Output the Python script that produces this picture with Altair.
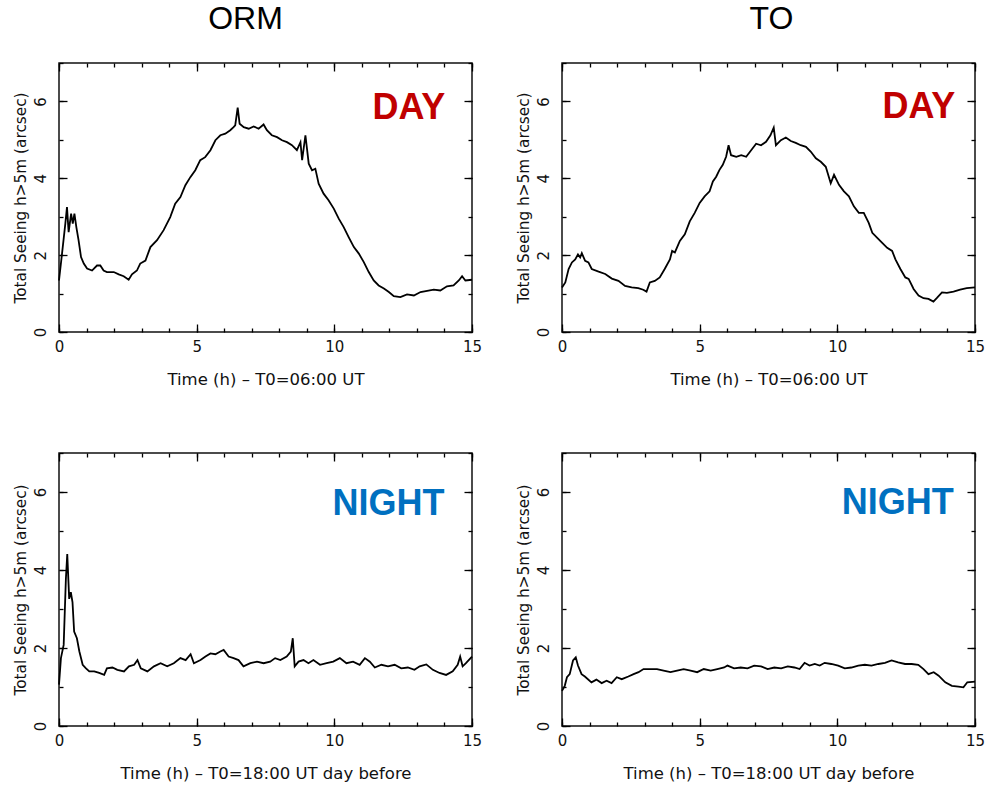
import altair as alt
import pandas as pd

# ---------------- data ----------------
orm_day_t = [0.0, 0.11, 0.23, 0.29, 0.35, 0.44, 0.5, 0.56, 0.63, 0.71,
             0.8, 0.9, 1.02, 1.2, 1.38, 1.5, 1.62, 1.74, 1.99, 2.17,
             2.35, 2.53, 2.65, 2.83, 2.95, 3.14, 3.32, 3.56, 3.8, 4.04,
             4.22, 4.41, 4.59, 4.77, 4.95, 5.13, 5.31, 5.5, 5.68, 5.86,
             6.04, 6.22, 6.34, 6.4, 6.49, 6.56, 6.71, 6.89, 7.07, 7.25,
             7.43, 7.55, 7.73, 7.92, 8.1, 8.28, 8.46, 8.64, 8.77, 8.83,
             8.95, 9.07, 9.19, 9.31, 9.43, 9.61, 9.79, 9.98, 10.16, 10.34,
             10.52, 10.71, 10.89, 11.07, 11.25, 11.43, 11.61, 11.8, 11.98, 12.16,
             12.4, 12.64, 12.89, 13.13, 13.37, 13.61, 13.85, 14.09, 14.33, 14.52,
             14.64, 14.76, 15.0]
orm_day_v = [1.34, 2.04, 2.82, 3.25, 2.6, 3.08, 2.82, 3.08, 2.73, 2.39,
             1.95, 1.78, 1.65, 1.6, 1.73, 1.73, 1.6, 1.56, 1.56, 1.5,
             1.45, 1.36, 1.5, 1.6, 1.78, 1.86, 2.21, 2.39, 2.65, 2.99,
             3.34, 3.51, 3.82, 4.03, 4.21, 4.47, 4.55, 4.73, 4.99, 5.12,
             5.16, 5.25, 5.33, 5.38, 5.84, 5.42, 5.33, 5.29, 5.35, 5.29,
             5.4, 5.25, 5.12, 5.07, 4.99, 4.94, 4.86, 4.73, 4.94, 4.47,
             5.12, 4.38, 4.21, 4.25, 3.86, 3.6, 3.43, 3.21, 2.95, 2.73,
             2.47, 2.21, 2.04, 1.82, 1.56, 1.34, 1.21, 1.13, 1.04, 0.93,
             0.91, 0.98, 0.95, 1.04, 1.07, 1.1, 1.08, 1.19, 1.21, 1.34,
             1.45, 1.34, 1.36]

to_day_t = [0.0, 0.12, 0.24, 0.36, 0.48, 0.58, 0.66, 0.72, 0.84, 0.96,
            1.08, 1.33, 1.57, 1.81, 2.05, 2.29, 2.53, 2.77, 2.95, 3.07,
            3.19, 3.37, 3.55, 3.73, 3.92, 4.0, 4.1, 4.28, 4.46, 4.64,
            4.82, 5.0, 5.18, 5.36, 5.48, 5.6, 5.72, 5.84, 5.96, 6.05,
            6.14, 6.33, 6.51, 6.69, 6.87, 7.05, 7.23, 7.41, 7.57, 7.69,
            7.77, 7.95, 8.13, 8.31, 8.49, 8.67, 8.86, 9.04, 9.22, 9.4,
            9.58, 9.76, 9.88, 10.06, 10.24, 10.42, 10.6, 10.78, 10.96, 11.14,
            11.27, 11.45, 11.63, 11.81, 11.99, 12.11, 12.29, 12.47, 12.59, 12.77,
            12.95, 13.13, 13.31, 13.49, 13.61, 13.8, 13.98, 14.22, 14.46, 14.7,
            15.0]
to_day_v = [1.16, 1.29, 1.64, 1.81, 1.89, 2.02, 1.94, 2.05, 1.85, 1.81,
            1.64, 1.57, 1.51, 1.39, 1.33, 1.2, 1.16, 1.14, 1.1, 1.05,
            1.29, 1.33, 1.42, 1.64, 1.89, 2.11, 2.07, 2.37, 2.54, 2.88,
            3.1, 3.36, 3.53, 3.66, 3.92, 4.04, 4.22, 4.35, 4.56, 4.86,
            4.6, 4.56, 4.6, 4.56, 4.73, 4.9, 4.86, 4.95, 5.12, 5.32,
            4.86, 4.99, 5.06, 4.97, 4.92, 4.86, 4.82, 4.69, 4.52, 4.43,
            4.3, 3.87, 4.09, 3.83, 3.66, 3.53, 3.27, 3.1, 3.1, 2.84,
            2.58, 2.45, 2.32, 2.19, 2.11, 1.89, 1.64, 1.42, 1.38, 1.12,
            0.95, 0.88, 0.86, 0.79, 0.88, 1.03, 1.02, 1.05, 1.1, 1.14,
            1.16]

orm_night_t = [0.0, 0.07, 0.17, 0.25, 0.3, 0.37, 0.43, 0.49, 0.55, 0.65,
               0.74, 0.86, 0.98, 1.1, 1.28, 1.46, 1.64, 1.74, 1.94, 2.12,
               2.36, 2.54, 2.73, 2.85, 2.97, 3.21, 3.45, 3.69, 3.93, 4.17,
               4.41, 4.6, 4.78, 4.9, 5.14, 5.32, 5.5, 5.68, 5.86, 5.98,
               6.16, 6.34, 6.52, 6.7, 6.95, 7.19, 7.43, 7.67, 7.85, 8.04,
               8.27, 8.42, 8.49, 8.56, 8.7, 8.88, 9.06, 9.24, 9.48, 9.72,
               9.96, 10.2, 10.44, 10.68, 10.92, 11.11, 11.29, 11.47, 11.71, 11.95,
               12.19, 12.43, 12.67, 12.91, 13.1, 13.34, 13.58, 13.82, 14.06, 14.3,
               14.48, 14.57, 14.66, 14.78, 15.0]
orm_night_v = [1.06, 1.74, 2.08, 3.77, 4.41, 3.26, 3.43, 3.18, 2.42, 2.25,
               1.91, 1.57, 1.48, 1.4, 1.4, 1.36, 1.31, 1.48, 1.5, 1.44,
               1.4, 1.53, 1.57, 1.69, 1.48, 1.4, 1.53, 1.61, 1.53, 1.61,
               1.74, 1.69, 1.84, 1.61, 1.69, 1.78, 1.86, 1.84, 1.91, 1.95,
               1.78, 1.74, 1.69, 1.53, 1.61, 1.65, 1.61, 1.65, 1.74, 1.69,
               1.78, 1.91, 2.25, 1.53, 1.65, 1.69, 1.61, 1.69, 1.57, 1.61,
               1.65, 1.74, 1.61, 1.65, 1.57, 1.74, 1.65, 1.5, 1.57, 1.53,
               1.57, 1.48, 1.5, 1.44, 1.53, 1.58, 1.44, 1.36, 1.31, 1.4,
               1.57, 1.78, 1.53, 1.61, 1.78]

to_night_t = [0.0, 0.1, 0.18, 0.28, 0.4, 0.5, 0.58, 0.71, 0.83, 1.07,
              1.25, 1.44, 1.62, 1.8, 1.99, 2.17, 2.41, 2.6, 2.78, 2.96,
              3.2, 3.45, 3.69, 3.94, 4.18, 4.42, 4.67, 4.91, 5.15, 5.4,
              5.64, 5.89, 6.01, 6.25, 6.49, 6.74, 6.98, 7.23, 7.47, 7.71,
              7.96, 8.2, 8.44, 8.63, 8.81, 8.99, 9.18, 9.36, 9.54, 9.78,
              10.03, 10.27, 10.51, 10.76, 11.0, 11.24, 11.49, 11.73, 11.97, 12.21,
              12.46, 12.7, 12.94, 13.13, 13.31, 13.5, 13.68, 13.92, 14.16, 14.4,
              14.58, 14.72, 15.0]
to_night_v = [0.9, 1.03, 1.25, 1.33, 1.68, 1.76, 1.55, 1.33, 1.27, 1.12,
              1.19, 1.1, 1.16, 1.1, 1.25, 1.2, 1.27, 1.33, 1.38, 1.46,
              1.46, 1.46, 1.42, 1.38, 1.42, 1.46, 1.42, 1.38, 1.46, 1.42,
              1.46, 1.5, 1.55, 1.48, 1.5, 1.48, 1.55, 1.53, 1.46, 1.5,
              1.48, 1.53, 1.5, 1.46, 1.62, 1.55, 1.59, 1.55, 1.62, 1.59,
              1.55, 1.48, 1.5, 1.55, 1.57, 1.55, 1.59, 1.62, 1.68, 1.63,
              1.59, 1.59, 1.57, 1.46, 1.33, 1.38, 1.29, 1.12, 1.03, 1.01,
              0.99, 1.12, 1.14]

x_major = [0, 5, 10, 15]
x_minor = list(range(16))
y_major = [0, 2, 4, 6]
y_minor = list(range(8))

Y_TITLE = "Total Seeing h>5m (arcsec)"
X_TITLE_DAY = "Time (h) \u2013 T0=06:00 UT"
X_TITLE_NIGHT = "Time (h) \u2013 T0=18:00 UT day before"

W = 413
TICK_FONT = "DejaVu Sans"


def panel(t, v, xtitle, word, word_color, wx, wy, height, title=None, title_dx=0):
    df = pd.DataFrame({"t": t, "v": v})
    xs = alt.Scale(domain=[0, 15], nice=False, zero=False)
    ys = alt.Scale(domain=[0, 7], nice=False, zero=False)

    def layer(xaxis, yaxis, xt, yt, opacity):
        return alt.Chart(df).mark_line(
            color="black", strokeWidth=1.8, strokeOpacity=opacity
        ).encode(
            x=alt.X("t:Q", scale=xs, axis=xaxis, title=xt),
            y=alt.Y("v:Q", scale=ys, axis=yaxis, title=yt),
        )

    main = layer(
        alt.Axis(orient="bottom", values=x_major, offset=-8, tickSize=8,
                 labelPadding=7, titlePadding=17, titleFontSize=16.5,
                 labelFlush=False, format="d"),
        alt.Axis(orient="left", values=y_major, offset=-8, tickSize=8,
                 labelAngle=270, labelPadding=11, titlePadding=5,
                 titleFontSize=15.3, labelFlush=False, format="d"),
        xtitle, Y_TITLE, 1,
    )
    minor_bl = layer(
        alt.Axis(orient="bottom", values=x_minor, offset=-4, tickSize=4, labels=False),
        alt.Axis(orient="left", values=y_minor, offset=-4, tickSize=4, labels=False),
        None, None, 0,
    )
    major_tr = layer(
        alt.Axis(orient="top", values=x_major, offset=-8, tickSize=8, labels=False),
        alt.Axis(orient="right", values=y_major, offset=-8, tickSize=8, labels=False),
        None, None, 0,
    )
    minor_tr = layer(
        alt.Axis(orient="top", values=x_minor, offset=-4, tickSize=4, labels=False),
        alt.Axis(orient="right", values=y_minor, offset=-4, tickSize=4, labels=False),
        None, None, 0,
    )
    label = alt.Chart(pd.DataFrame({"word": [word]})).mark_text(
        align="right", baseline="middle", fontSize=36, fontWeight="bold",
        font="Liberation Sans", color=word_color
    ).encode(
        x=alt.XDatum(wx, type="quantitative", scale=xs, axis=None),
        y=alt.YDatum(wy, type="quantitative", scale=ys, axis=None),
        text="word:N",
    )
    ch = alt.layer(main, minor_bl, major_tr, minor_tr, label).resolve_axis(
        x="independent", y="independent"
    ).properties(width=W, height=height)
    if title is not None:
        ch = ch.properties(title=alt.TitleParams(
            text=title, fontSize=32, font="Liberation Sans", fontWeight="normal",
            color="black", offset=26, dx=title_dx, anchor="middle"))
    return ch


tl = panel(orm_day_t, orm_day_v, X_TITLE_DAY, "DAY", "#c00000", 14.03, 5.84, 269, "ORM", -20)
tr = panel(to_day_t, to_day_v, X_TITLE_DAY, "DAY", "#c00000", 14.28, 5.85, 269, "TO", 3)
bl = panel(orm_night_t, orm_night_v, X_TITLE_NIGHT, "NIGHT", "#0070c0", 14.0, 5.68, 273)
br = panel(to_night_t, to_night_v, X_TITLE_NIGHT, "NIGHT", "#0070c0", 14.23, 5.72, 273)

top = alt.hconcat(tl, tr, spacing=32)
bottom = alt.hconcat(bl, br, spacing=32)

chart = alt.vconcat(top, bottom, spacing=62).properties(
    padding={"left": 12, "top": 2, "right": 0, "bottom": 0}
).configure_view(
    stroke="#111111", strokeWidth=1.5
).configure_axis(
    domain=False, grid=False,
    tickColor="black", tickWidth=1.3,
    labelFont=TICK_FONT, labelFontSize=15, labelColor="#111111",
    titleFont=TICK_FONT, titleFontSize=16, titleFontWeight="normal",
    titleColor="#111111",
)

chart.save("out.html", embed_options={"renderer": "svg", "actions": False})
